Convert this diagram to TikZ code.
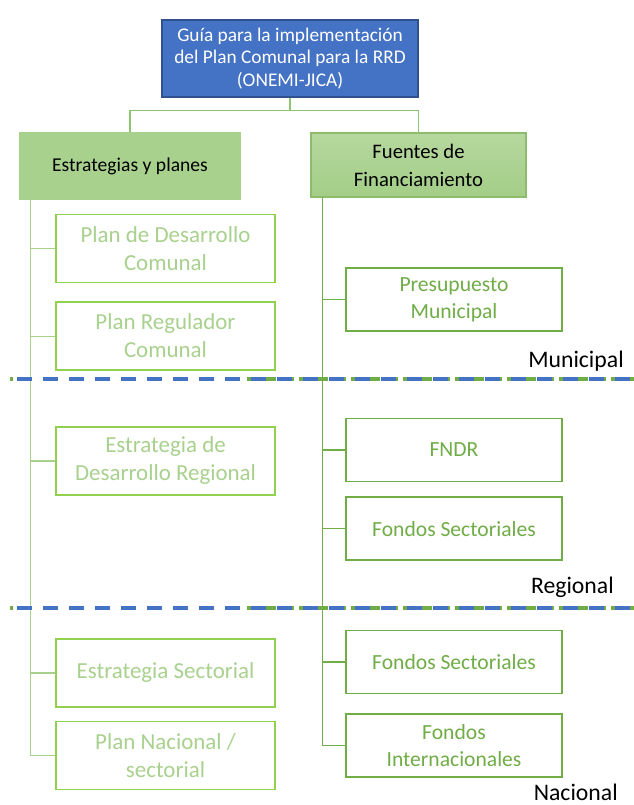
\documentclass[tikz,border=0pt]{standalone}
\usepackage{fontspec}
\setmainfont{Carlito}
\usetikzlibrary{positioning}
\definecolor{topblue}{HTML}{4472C4}
\definecolor{topline}{HTML}{2F528F}
\definecolor{headgreen}{HTML}{A9D18E}
\definecolor{darkgreen}{HTML}{70AD47}
\definecolor{limegreen}{HTML}{92D050}
\definecolor{linkgreen}{HTML}{8FC470}

\begin{document}
\begin{tikzpicture}[x=0.75pt,y=-0.75pt,
  leftbox/.style={draw=limegreen, line width=1.2pt, fill=white, minimum width=164.25pt, minimum height=51pt, align=center, text=headgreen, font=\fontsize{17.2}{21}\selectfont},
  rightbox/.style={draw=darkgreen, line width=1.2pt, fill=white, minimum width=162pt, minimum height=47.25pt, align=center, text=darkgreen, font=\fontsize{16.2}{20}\selectfont},
  linkL/.style={draw=headgreen, line width=0.9pt},
  linkR/.style={draw=darkgreen, line width=0.8pt},
  level/.style={font=\fontsize{17.8}{20}\selectfont, text=black, inner sep=0pt}]
\useasboundingbox (0,0) rectangle (634,805);

\node (top) [draw=topline, line width=0.8pt, fill=topblue, text=white, minimum width=192pt, minimum height=57.75pt, align=center, font=\fontsize{14.5}{17}\selectfont] at (290,58.5) {Guía para la implementación\\del Plan Comunal para la RRD\\(ONEMI-JICA)};
\node (headL) [fill=headgreen, minimum width=166.5pt, minimum height=51pt, font=\fontsize{14.7}{18}\selectfont] at (130,166) {Estrategias y planes};
\node (headR) [draw=darkgreen!80, line width=0.8pt, top color=headgreen!85, bottom color=headgreen!90!darkgreen, minimum width=161.25pt, minimum height=48pt, align=center, font=\fontsize{15.5}{21}\selectfont] at (418.5,165) {Fuentes de\\Financiamiento};

\draw [linkgreen, line width=0.8pt] (top.south) -- ++(0,13) -| (headL.north);
\draw [linkgreen, line width=0.8pt] (top.south) -- ++(0,13) -| (headR.north);

\node (pdc) [leftbox] at (165.5,248.5) {Plan de Desarrollo\\Comunal};
\node (prc) [leftbox, below=13.5pt of pdc] {Plan Regulador\\Comunal};
\node (edr) [leftbox] at (165.5,461) {Estrategia de\\Desarrollo Regional};
\node (es) [leftbox] at (165.5,673) {Estrategia Sectorial};
\node (pn) [leftbox, below=9.75pt of es] {Plan Nacional /\\sectorial};

\node (pm) [rightbox] at (454,299.5) {Presupuesto\\Municipal};
\node (fndr) [rightbox] at (454,450) {FNDR};
\node (fsr) [rightbox, below=10.5pt of fndr] {Fondos Sectoriales};
\node (fsn) [rightbox] at (454,662) {Fondos Sectoriales};
\node (fi) [rightbox, below=14.25pt of fsn] {Fondos\\Internacionales};

\coordinate (spl) at ([xshift=9pt]headL.south west);
\coordinate (spr) at ([xshift=9pt]headR.south west);
\foreach \n in {pdc,prc,edr,es,pn} \draw [linkL] (spl) |- (\n.west);
\foreach \n in {pm,fndr,fsr,fsn,fi} \draw [linkR] (spr) |- (\n.west);

\foreach \y in {379,608} {
  \draw [darkgreen, line width=2.4pt, dash pattern=on 9pt off 4pt] (247,\y) -- (634,\y);
  \draw [darkgreen, line width=2.4pt] (10,\y) -- (13,\y);
  \draw [topblue, line width=3pt, dash pattern=on 11.25pt off 8.25pt] (17,\y) -- (634,\y);
}

\node (mun) [level, anchor=base east] at (624,367) {Municipal};
\node (reg) [level, anchor=base east] at (614,593) {Regional};
\node (nac) [level, anchor=base east] at (618,800) {Nacional};
\end{tikzpicture}
\end{document}
